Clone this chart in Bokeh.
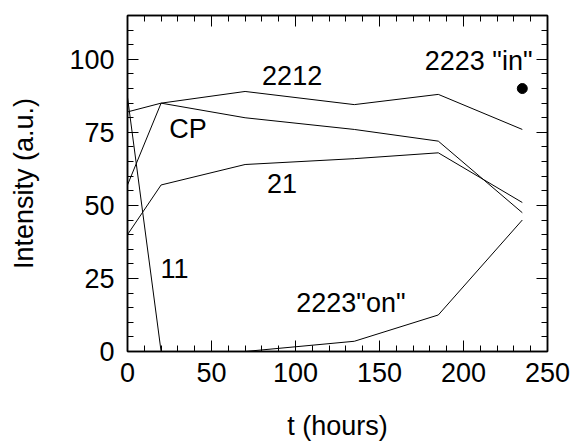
from bokeh.plotting import figure
from bokeh.models import LinearAxis, FixedTicker, Range1d
from bokeh.core.properties import value
from bokeh.embed import file_html
from bokeh.resources import INLINE

# data
t = [0, 20, 70, 135, 185, 235]
i2212 = [82, 85, 89, 84.5, 88, 76]
i_cp = [57, 85, 80, 76, 72, 47.5]
i21 = [40, 57, 64, 66, 68, 51]
t11 = [0, 20]
i11 = [87, 0]
t_on = [70, 135, 185, 235]
i_on = [0, 3.5, 12.5, 45]
t_in = [235]
i_in = [90]

label_texts = ["2212", "CP", "21", "11", '2223"on"', '2223 "in"']
label_x = [98, 36, 92, 28, 133, 209]
label_y = [94.5, 76, 57.5, 28.5, 16.5, 99.5]

x_major = [0, 50, 100, 150, 200, 250]
x_minor = list(range(0, 251, 10))
y_major = [0, 25, 50, 75, 100]
y_minor = list(range(0, 116, 5))

FONT = "Liberation Sans"
FS = "27px"

p = figure(width=570, height=447, output_backend="svg", toolbar_location=None,
           x_range=Range1d(0, 250), y_range=Range1d(0, 115),
           min_border_left=127, min_border_right=23, min_border_top=15, min_border_bottom=96)
p.xgrid.visible = False
p.ygrid.visible = False
p.outline_line_color = "black"
p.outline_line_width = 1.5
p.background_fill_color = "white"
p.border_fill_color = "white"

xt = FixedTicker(ticks=x_major, minor_ticks=x_minor)
yt = FixedTicker(ticks=y_major, minor_ticks=y_minor)

def style(ax, show_labels):
    ax.axis_line_color = "black"
    ax.axis_line_width = 1.5
    ax.major_tick_in = 11
    ax.major_tick_out = 0
    ax.minor_tick_in = 6
    ax.minor_tick_out = 0
    ax.major_tick_line_color = "black"
    ax.minor_tick_line_color = "black"
    ax.major_tick_line_width = 1
    ax.minor_tick_line_width = 1
    ax.major_label_text_font = FONT
    ax.axis_label_text_font = FONT
    ax.axis_label_text_font_style = "normal"
    ax.axis_label_text_color = "black"
    ax.major_label_text_color = "black"
    ax.major_label_text_font_size = FS
    ax.axis_label_text_font_size = FS
    if not show_labels:
        ax.major_label_overrides = {tk: "" for tk in ax.ticker.ticks}
        ax.major_label_standoff = 0

p.xaxis.ticker = xt
p.yaxis.ticker = yt
style(p.xaxis[0], True)
style(p.yaxis[0], True)
p.xaxis.axis_label = "t (hours)"
p.yaxis.axis_label = "Intensity (a.u.)"
p.xaxis.major_label_standoff = 11
p.yaxis.major_label_standoff = 13
p.xaxis.axis_label_standoff = 26
p.yaxis.axis_label_standoff = 27

top = LinearAxis(ticker=xt)
style(top, False)
p.add_layout(top, "above")
right = LinearAxis(ticker=yt)
style(right, False)
p.add_layout(right, "right")

for xs, ys in [(t, i2212), (t, i_cp), (t, i21), (t11, i11), (t_on, i_on)]:
    p.line(xs, ys, line_color="black", line_width=1)

p.scatter(t_in, i_in, size=10, color="black")

p.text(x=label_x, y=label_y, text=label_texts, text_font=value(FONT),
       text_font_size=FS, text_align="center", text_baseline="middle", text_color="black")

open("out.html", "w").write(file_html(p, INLINE))
